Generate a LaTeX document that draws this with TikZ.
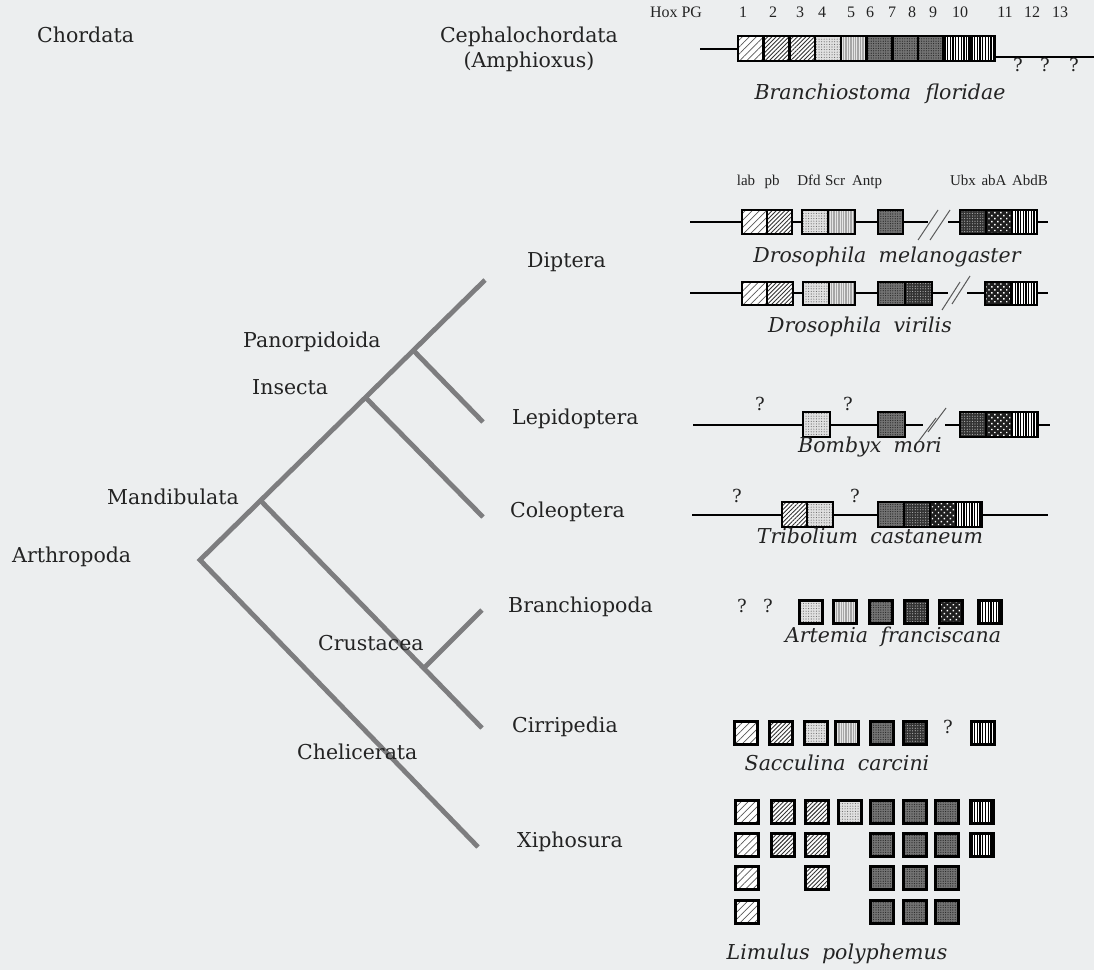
\documentclass[tikz,border=0pt]{standalone}
\usepackage{fontspec}
\setmainfont{DejaVu Serif}
\newfontfamily\timesfont{Liberation Serif}
\usetikzlibrary{patterns.meta}
\definecolor{bgc}{RGB}{236,238,239}
\definecolor{treec}{RGB}{125,125,127}
\definecolor{ink}{RGB}{35,35,35}
\tikzset{
  lbl/.style={font=\fontsize{20.5}{24}\selectfont, text=ink, inner sep=0pt},
  lblw/.style={lbl, anchor=mid west},
  spec/.style={font=\fontsize{20.5}{24}\selectfont\itshape, text=ink, inner sep=0pt, anchor=mid},
  hox/.style={font=\timesfont\fontsize{16}{18}\selectfont, text=ink, inner sep=0pt, anchor=mid},
  gen/.style={font=\timesfont\fontsize{15}{17}\selectfont, text=ink, inner sep=0pt, anchor=mid},
  qm/.style={font=\fontsize{18}{20}\selectfont, text=ink, inner sep=0pt, anchor=mid},
  branch/.style={draw=treec, line width=4.8pt, line join=miter},
  chrom/.style={draw=black, line width=2.2pt},
  brk/.style={draw=black!65, line width=1pt},
  cellbox/.style={draw=black, line width=2.6pt},
  pA/.style={cellbox, preaction={fill=white}, preaction={pattern={Lines[angle=45,distance=5pt,line width=0.7pt]}, pattern color=black!65}},
  pB/.style={cellbox, preaction={fill=white}, preaction={pattern={Lines[angle=45,distance=3pt,line width=0.9pt]}, pattern color=black!80}},
  pD/.style={cellbox, preaction={fill=black!12}, preaction={pattern={Dots[radius=0.55pt,distance=2.6pt]}, pattern color=black!60}},
  pE/.style={cellbox, preaction={fill=black!35}, preaction={pattern={Lines[angle=90,distance=2.4pt,line width=0.7pt]}, pattern color=black!10}},
  pF/.style={cellbox, preaction={fill=black!55}, preaction={pattern={Dots[radius=0.6pt,distance=2.4pt]}, pattern color=black!85}},
  pG/.style={cellbox, preaction={fill=black!80}, preaction={pattern={Dots[radius=0.6pt,distance=2.6pt]}, pattern color=black!30}},
  pH/.style={cellbox, preaction={fill=black!88}, preaction={pattern={Dots[radius=1pt,distance=4.2pt,angle=45]}, pattern color=white}},
  pV/.style={cellbox, preaction={fill=white}, preaction={pattern={Lines[angle=90,distance=2.7pt,line width=1.3pt]}, pattern color=black}},
}
\newcommand{\hsq}[3]{\path[#3] ({#1-11.5},{#2-11.5}) rectangle ({#1+11.5},{#2+11.5});}
\newcommand{\hbx}[5]{\path[#5] (#1,#3) rectangle (#2,#4);}
\begin{document}
\begin{tikzpicture}[x=1pt,y=-1pt]
\useasboundingbox (0,0) rectangle (1094,970);
\fill[bgc] (0,0) rectangle (1094,970);

% ---------- tree ----------
\coordinate (root) at (200,560);
\coordinate (mand) at (260,500);
\coordinate (ins) at (365,397);
\coordinate (pan) at (413,350);
\coordinate (dip) at (485,280);
\coordinate (lep) at (483,422);
\coordinate (col) at (483,517);
\coordinate (crus) at (425,667);
\coordinate (bra) at (482,610);
\coordinate (cir) at (482,728);
\coordinate (xip) at (478,847);
\draw[branch] (dip) -- (root) -- (xip);
\draw[branch] (mand) -- (cir);
\draw[branch] (ins) -- (col);
\draw[branch] (pan) -- (lep);
\draw[branch] (crus) -- (bra);

% ---------- labels ----------
\node[lblw] (chordata) at (37,40) {Chordata};
\node[lbl, anchor=mid] (ceph) at (529,40) {Cephalochordata};
\node[lbl, anchor=mid] (amph) at (529,65) {(Amphioxus)};
\node[lblw] (panl) at (243,345) {Panorpidoida};
\node[lblw] (insl) at (252,392) {Insecta};
\node[lblw] (mandl) at (107,502) {Mandibulata};
\node[lblw] (arth) at (12,560) {Arthropoda};
\node[lblw] (crusl) at (318,648) {Crustacea};
\node[lblw] (chel) at (297,757) {Chelicerata};
\node[lblw] (dipl) at (527,265) {Diptera};
\node[lblw] (lepl) at (512,422) {Lepidoptera};
\node[lblw] (coll) at (510,515) {Coleoptera};
\node[lblw] (bral) at (508,610) {Branchiopoda};
\node[lblw] (cirl) at (512,730) {Cirripedia};
\node[lblw] (xipl) at (517,845) {Xiphosura};

% ---------- Amphioxus ----------
\node[hox] (hoxpg) at (676,15) {Hox PG};
\foreach \n/\x in {1/743,2/773,3/800,4/822,5/851,6/870,7/892,8/912,9/933,10/960,11/1005,12/1032,13/1060}
  \node[hox] (pg\n) at (\x,15) {\n};
\draw[chrom] (700,49) -- (738,49);
\draw[chrom] (995,57) -- (1094,57);
\foreach \i/\s in {0/pA,1/pB,2/pB,3/pD,4/pE,5/pF,6/pF,7/pF,8/pV,9/pV}
  \path[\s] ({738+25.7*\i},36) rectangle ({738+25.7*(\i+1)},61);
\node[qm] (qa1) at (1018,69) {?};
\node[qm] (qa2) at (1045,69) {?};
\node[qm] (qa3) at (1074,69) {?};
\node[spec] (bflo) at (880,97) {Branchiostoma\hspace{0.7em}floridae};

% ---------- Drosophila melanogaster ----------
\foreach \t/\x in {lab/746,pb/772,Dfd/809,Scr/835,Antp/867,Ubx/963,abA/994,AbdB/1030}
  \node[gen] (g\t) at (\x,183) {\t};
\draw[chrom] (690,222) -- (742,222);
\draw[chrom] (792,222) -- (802,222);
\draw[chrom] (855,222) -- (878,222);
\draw[chrom] (903,222) -- (928,222);
\draw[chrom] (948,222) -- (960,222);
\draw[chrom] (1037,222) -- (1048,222);
\draw[brk] (918,240) -- (938,210);
\draw[brk] (930,240) -- (950,210);
\hbx{742}{767}{210}{234}{pA}
\hbx{767}{792}{210}{234}{pB}
\hbx{802}{828}{210}{234}{pD}
\hbx{828}{855}{210}{234}{pE}
\hbx{878}{903}{210}{234}{pF}
\hbx{960}{986}{210}{234}{pG}
\hbx{986}{1012}{210}{234}{pH}
\hbx{1012}{1037}{210}{234}{pV}
\node[spec] (dmel) at (887,260) {Drosophila\hspace{0.6em}melanogaster};

% ---------- Drosophila virilis ----------
\draw[chrom] (690,293) -- (742,293);
\draw[chrom] (793,293) -- (803,293);
\draw[chrom] (855,293) -- (878,293);
\draw[chrom] (932,293) -- (948,293);
\draw[chrom] (967,293) -- (985,293);
\draw[chrom] (1037,293) -- (1048,293);
\draw[brk] (942,310) -- (960,282);
\draw[brk] (952,304) -- (970,276);
\hbx{742}{767}{282}{305}{pA}
\hbx{767}{793}{282}{305}{pB}
\hbx{803}{829}{282}{305}{pD}
\hbx{829}{855}{282}{305}{pE}
\hbx{878}{905}{282}{305}{pF}
\hbx{905}{932}{282}{305}{pG}
\hbx{985}{1011}{282}{305}{pH}
\hbx{1011}{1037}{282}{305}{pV}
\node[spec] (dvir) at (860,330) {Drosophila\hspace{0.6em}virilis};

% ---------- Bombyx ----------
\draw[chrom] (693,425) -- (803,425);
\draw[chrom] (830,425) -- (878,425);
\draw[chrom] (905,425) -- (923,425);
\draw[chrom] (945,425) -- (960,425);
\draw[chrom] (1038,425) -- (1050,425);
\draw[brk] (918,442) -- (936,418);
\draw[brk] (928,432) -- (946,408);
\node[qm] (qb1) at (760,408) {?};
\node[qm] (qb2) at (848,408) {?};
\hbx{803}{830}{412}{437}{pD}
\hbx{878}{905}{412}{437}{pF}
\hbx{960}{986}{412}{437}{pG}
\hbx{986}{1012}{412}{437}{pH}
\hbx{1012}{1038}{412}{437}{pV}
\node[spec] (bmor) at (870,450) {Bombyx\hspace{0.6em}mori};

% ---------- Tribolium ----------
\draw[chrom] (692,515) -- (782,515);
\draw[chrom] (833,515) -- (878,515);
\draw[chrom] (982,515) -- (1048,515);
\node[qm] (qt1) at (737,500) {?};
\node[qm] (qt2) at (855,500) {?};
\hbx{782}{807}{502}{527}{pB}
\hbx{807}{833}{502}{527}{pD}
\hbx{878}{904}{502}{527}{pF}
\hbx{904}{930}{502}{527}{pG}
\hbx{930}{956}{502}{527}{pH}
\hbx{956}{982}{502}{527}{pV}
\node[spec] (tcas) at (870,541) {Tribolium\hspace{0.6em}castaneum};

% ---------- Artemia ----------
\node[qm] (qr1) at (742,610) {?};
\node[qm] (qr2) at (768,610) {?};
\hsq{811}{612}{pD}
\hsq{845}{612}{pE}
\hsq{881}{612}{pF}
\hsq{916}{612}{pG}
\hsq{951}{612}{pH}
\hsq{990}{612}{pV}
\node[spec] (afra) at (893,640) {Artemia\hspace{0.6em}franciscana};

% ---------- Sacculina ----------
\hsq{746}{733}{pA}
\hsq{781}{733}{pB}
\hsq{816}{733}{pD}
\hsq{847}{733}{pE}
\hsq{882}{733}{pF}
\hsq{915}{733}{pG}
\node[qm] (qs) at (948,731) {?};
\hsq{983}{733}{pV}
\node[spec] (scar) at (837,768) {Sacculina\hspace{0.6em}carcini};

% ---------- Limulus ----------
\hsq{747}{812}{pA} \hsq{783}{812}{pB} \hsq{817}{812}{pB} \hsq{850}{812}{pD}
\hsq{882}{812}{pF} \hsq{915}{812}{pF} \hsq{947}{812}{pF} \hsq{982}{812}{pV}
\hsq{747}{845}{pA} \hsq{783}{845}{pB} \hsq{817}{845}{pB}
\hsq{882}{845}{pF} \hsq{915}{845}{pF} \hsq{947}{845}{pF} \hsq{982}{845}{pV}
\hsq{747}{878}{pA} \hsq{817}{878}{pB}
\hsq{882}{878}{pF} \hsq{915}{878}{pF} \hsq{947}{878}{pF}
\hsq{747}{912}{pA}
\hsq{882}{912}{pF} \hsq{915}{912}{pF} \hsq{947}{912}{pF}
\node[spec] (lpol) at (837,957) {Limulus\hspace{0.6em}polyphemus};
\end{tikzpicture}
\end{document}
